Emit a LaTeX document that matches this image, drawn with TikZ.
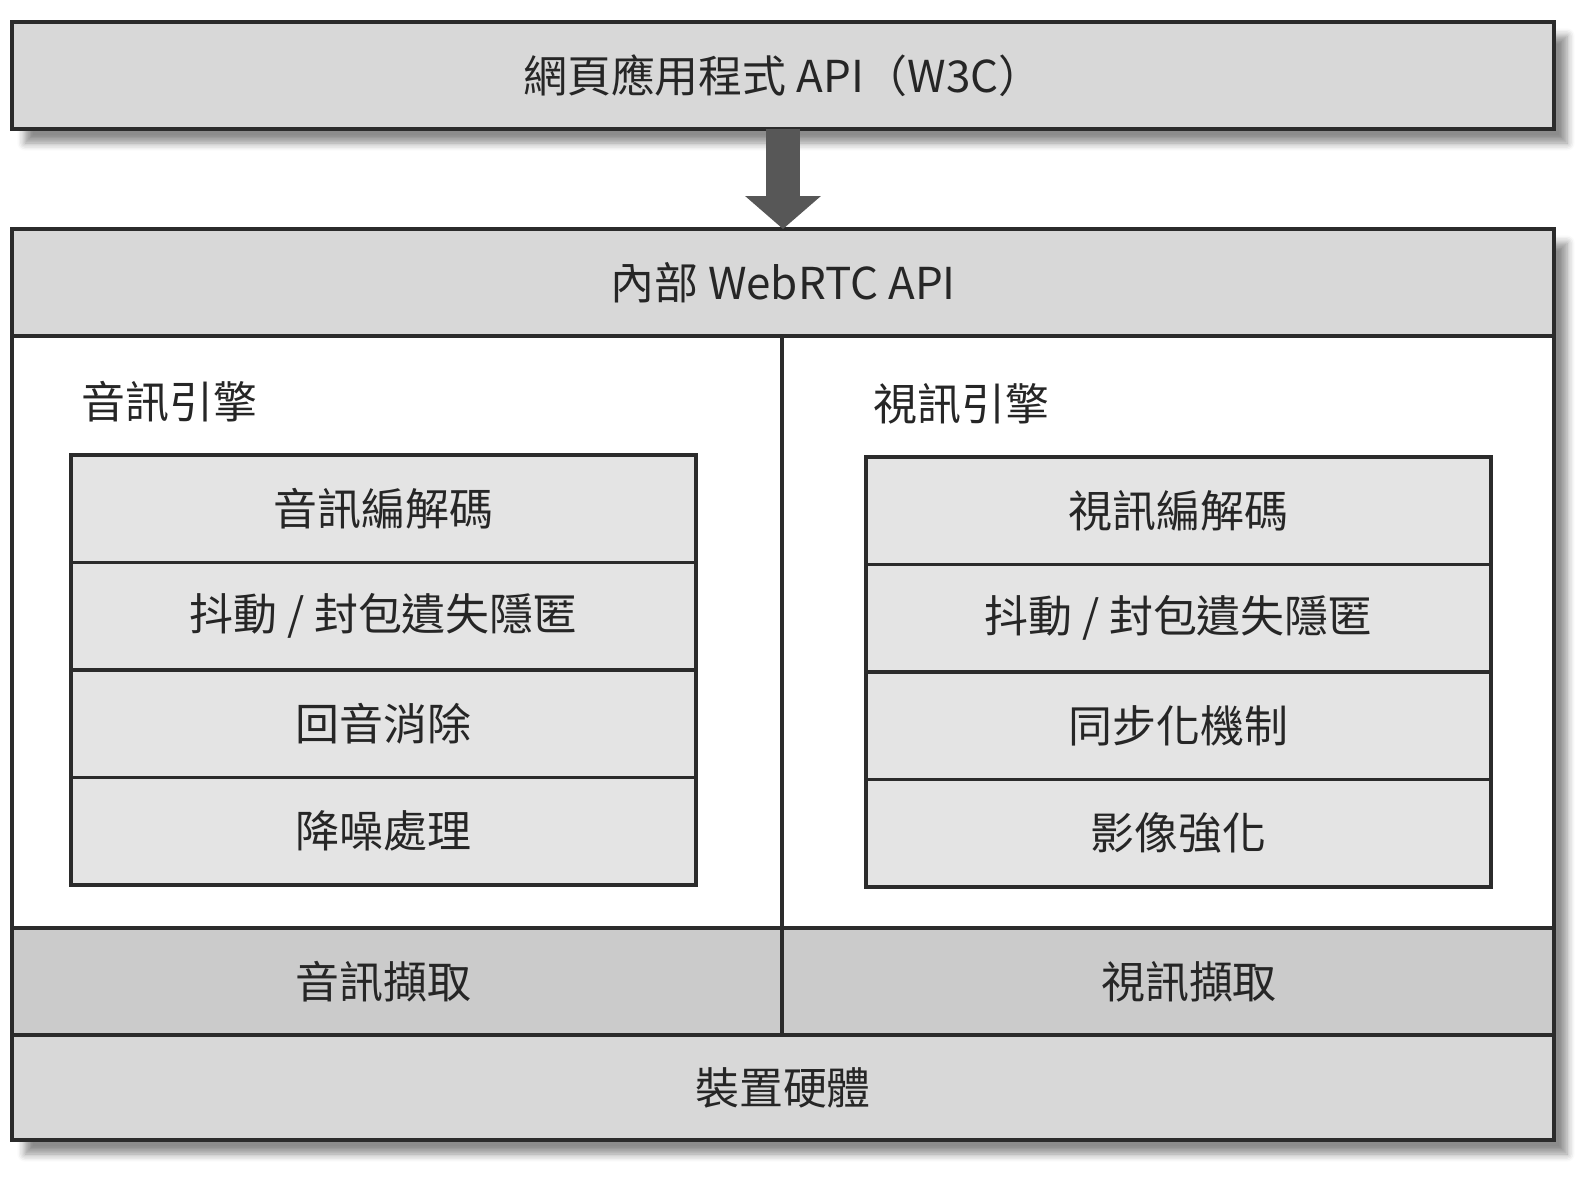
\documentclass[tikz,border=0pt]{standalone}
\usepackage{fontspec}
\setmainfont{Noto Sans CJK TC}
\usetikzlibrary{positioning,arrows.meta,shadows.blur}
\definecolor{layergray}{HTML}{D8D8D8}
\definecolor{capgray}{HTML}{CBCBCB}
\definecolor{cellgray}{HTML}{E4E4E4}
\definecolor{edgegray}{HTML}{2B2B2B}
\tikzset{
  rtc shadow/.style={blur shadow={shadow xshift=1.3mm,shadow yshift=-1.4mm,
    shadow blur steps=6,shadow opacity=45}},
  rtc frame/.style={draw=edgegray,line width=1.3pt,fill=white,inner sep=0pt,
    outer sep=0pt,minimum width=15.42cm,minimum height=9.11cm},
  rtc layer/.style={draw=edgegray,line width=1.2pt,fill=layergray,inner sep=0pt,
    outer sep=0pt,minimum width=15.42cm,minimum height=1.07cm,
    font=\fontsize{12.5}{15}\selectfont,text=black!85},
  rtc capture/.style={rtc layer,fill=capgray},
  rtc cell/.style={draw=edgegray,line width=1pt,fill=cellgray,inner sep=0pt,
    outer sep=0pt,minimum width=6.25cm,minimum height=1.075cm,
    font=\fontsize{12.5}{15}\selectfont,text=black!85},
  rtc engine/.style={inner sep=0pt,font=\fontsize{12.5}{15}\selectfont,text=black!85},
  rtc divider/.style={draw=edgegray,line width=1pt},
  rtc box/.style={draw=edgegray,line width=1.3pt},
  rtc arrow/.style={-{Triangle[length=3.3mm,width=7.4mm]},line width=3.4mm,
    draw=black!66}
}
\newcommand{\enginestack}[6]{%
  \node[rtc cell,anchor=north west] (#1-a) at #2 {#3};
  \node[rtc cell,below=0pt of #1-a] (#1-b) {#4};
  \node[rtc cell,below=0pt of #1-b] (#1-c) {#5};
  \node[rtc cell,below=0pt of #1-c] (#1-d) {#6};
  \draw[rtc box] (#1-a.north west) rectangle (#1-d.south east);
}

\begin{document}
\begin{tikzpicture}[x=0.1mm,y=-0.1mm]
  \useasboundingbox (0,0) rectangle (1596,1176);

  % Web application layer.
  \node[rtc layer,rtc shadow,anchor=north west] (webapp) at (12,22)
    {網頁應用程式 API（W3C）};

  % Browser stack.
  \node[rtc frame,rtc shadow,anchor=north west] (frame) at (12,229) {};
  \node[rtc layer,anchor=north west] (internal) at (frame.north west)
    {內部 WebRTC API};
  \node[rtc layer,anchor=south west,minimum height=1.05cm] (device)
    at (frame.south west) {裝置硬體};
  \node[rtc capture,anchor=south west,minimum width=7.70cm] (acap)
    at (device.north west) {};
  \node[rtc capture,anchor=south east,minimum width=7.72cm] (vcap)
    at (device.north east) {};
  \draw[rtc divider] (internal.south -| acap.east) -- (acap.north east);

  \draw[rtc arrow] (webapp.south) -- (internal.north);

  % Audio engine.
  \node[rtc engine,anchor=west] (aengine) at (81,402) {音訊引擎};
  \enginestack{audio}{(71,455)}{音訊編解碼}{抖動 / 封包遺失隱匿}{回音消除}{降噪處理}
  \node[rtc engine] (acap-text) at (acap.center -| audio-d.center) {音訊擷取};

  % Video engine.
  \node[rtc engine,anchor=west] (vengine) at (873,404) {視訊引擎};
  \enginestack{video}{(866,457)}{視訊編解碼}{抖動 / 封包遺失隱匿}{同步化機制}{影像強化}
  \node[rtc engine,xshift=3pt] (vcap-text) at (vcap.center -| video-d.center) {視訊擷取};
\end{tikzpicture}
\end{document}
